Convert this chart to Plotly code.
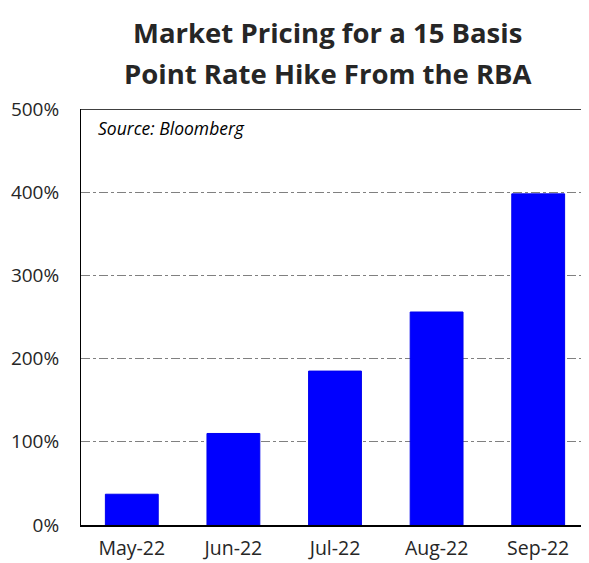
import plotly.graph_objects as go

categories = ["May-22", "Jun-22", "Jul-22", "Aug-22", "Sep-22"]
values = [37, 110, 185, 256, 398]
tick_vals = [0, 100, 200, 300, 400, 500]
tick_text = ["0%", "100%", "200%", "300%", "400%", "500%"]
title_lines = ["Market Pricing for a 15 Basis", "Point Rate Hike From the RBA"]
source_text = "Source: Bloomberg"

FONT = "Open Sans, Lato, sans-serif"

fig = go.Figure()
fig.add_trace(go.Bar(x=categories, y=values,
                     marker=dict(color="#0000FF", line=dict(color="#0000EE", width=1)),
                     width=0.52))

fig.update_layout(
    width=581, height=555,
    margin=dict(l=73, r=0, t=101, b=38),
    paper_bgcolor="white", plot_bgcolor="white",
    font=dict(family=FONT, color="#262626"),
    showlegend=False,
    xaxis=dict(
        showline=True, linecolor="black", linewidth=2,
        ticks="", tickfont=dict(size=19.5), showgrid=False,
        ticklabelstandoff=5, automargin=False,
    ),
    yaxis=dict(
        range=[0, 500], tickvals=tick_vals, ticktext=tick_text,
        showline=True, linecolor="black", linewidth=1,
        tickfont=dict(size=19), ticks="", ticklabelstandoff=17,
        showgrid=True, gridcolor="#808080", griddash="dashdot", gridwidth=1,
        zeroline=False, automargin=False,
    ),
    shapes=[dict(type="line", xref="paper", yref="y", x0=0, x1=1, y0=500, y1=500,
                 line=dict(color="black", width=1.5))],
    annotations=[
        dict(text="<b>" + title_lines[0] + "</b>", xref="paper", yref="paper",
             x=0.486, y=1.183, xanchor="center", yanchor="middle", showarrow=False,
             font=dict(size=27.5, family=FONT, color="#262626")),
        dict(text="<b>" + title_lines[1] + "</b>", xref="paper", yref="paper",
             x=0.486, y=1.0865, xanchor="center", yanchor="middle", showarrow=False,
             font=dict(size=27.5, family=FONT, color="#262626")),
        dict(text="<i>" + source_text + "</i>", xref="paper", yref="paper",
             x=0.03, y=0.987, xanchor="left", yanchor="top", showarrow=False,
             font=dict(size=17.5, color="black")),
    ],
)

fig.write_html("out.html")
